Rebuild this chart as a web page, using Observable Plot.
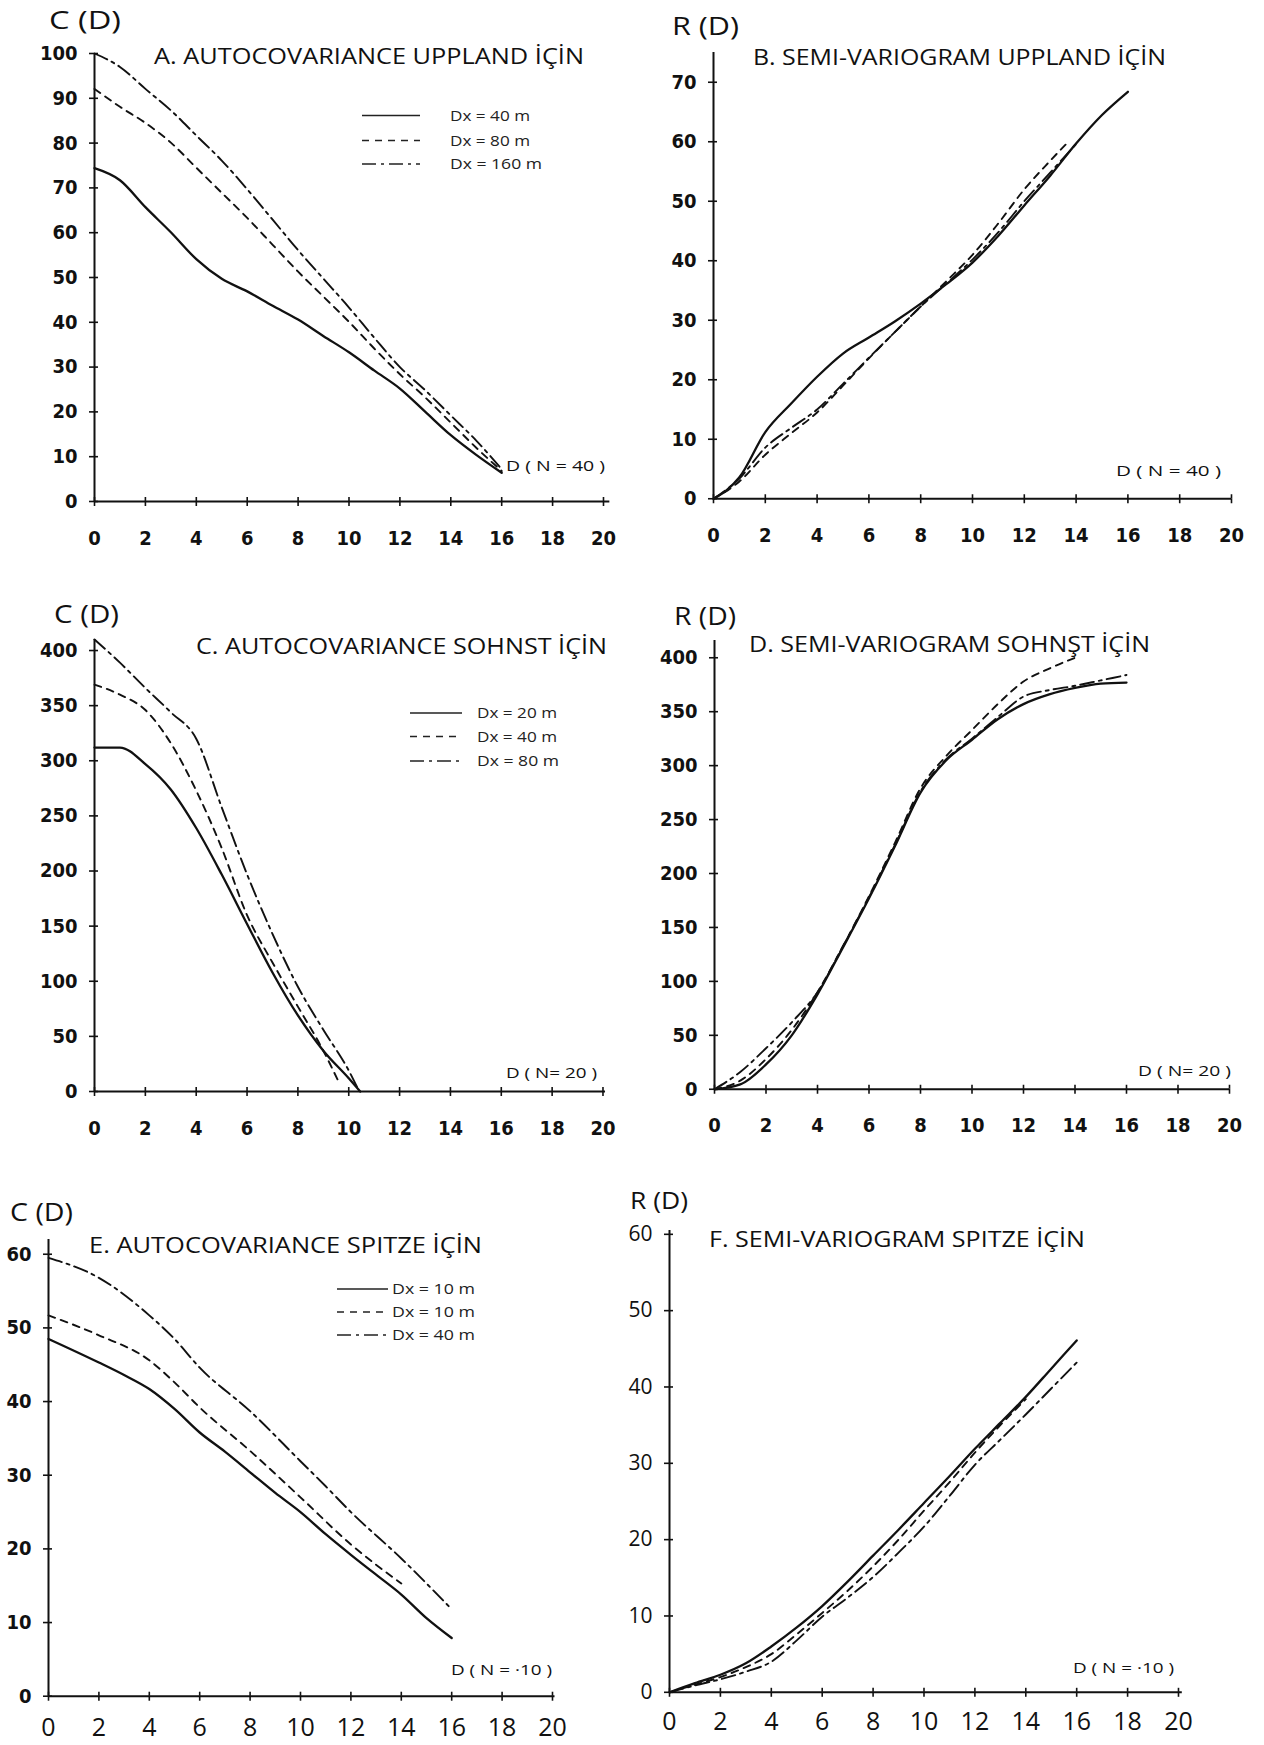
<!DOCTYPE html>
<html>
<head>
<meta charset="utf-8">
<script src="https://cdn.jsdelivr.net/npm/d3@7"></script>
<script src="https://cdn.jsdelivr.net/npm/@observablehq/plot@0.6"></script>
<style>
  html, body { margin: 0; padding: 0; background: #fff; }
  body { width: 1264px; height: 1745px; position: relative; overflow: hidden; }
  .pl { position: absolute; overflow: visible; }
  #overlay { position: absolute; left: 0; top: 0; pointer-events: none; }
</style>
</head>
<body>
<script>
// ---------------- DATA ----------------
const xTicks = [0, 2, 4, 6, 8, 10, 12, 14, 16, 18, 20];

// A. Autocovariance Uppland
const aLag = [0, 1, 2, 3, 4, 5, 6, 7, 8, 9, 10, 11, 12, 13, 14, 15, 16];
const aDx40  = [74.4, 71.7, 65.7, 60.1, 54.1, 49.7, 46.9, 43.7, 40.6, 36.9, 33.3, 29.2, 25.2, 20.0, 14.8, 10.4, 6.4];
const aDx80  = [92.1, 88.1, 84.5, 80.1, 74.5, 68.9, 63.3, 57.3, 51.3, 45.7, 40.1, 34.1, 28.4, 23.2, 17.6, 12.0, 6.8];
const aDx160 = [100, 97.0, 92.1, 87.3, 81.7, 76.1, 69.7, 62.9, 56.1, 49.7, 43.3, 36.5, 30.0, 24.8, 19.2, 13.6, 7.2];
const aYTicks = [0, 10, 20, 30, 40, 50, 60, 70, 80, 90, 100];

// B. Semi-variogram Uppland
const bLagSolid = [0, 0.5, 1, 2, 3, 4, 5, 6, 7, 8, 9, 10, 11, 12, 13, 14, 15, 16];
const bSolid    = [0, 1.4, 3.6, 11.2, 16.0, 20.5, 24.4, 27.1, 29.8, 32.8, 36.1, 39.7, 44.2, 49.3, 54.3, 59.7, 64.5, 68.4];
const bLagDash  = [0, 1, 2, 3, 4, 5, 6, 7, 8, 9, 10, 11, 12, 13, 13.7];
const bDash     = [0, 2.9, 7.4, 11.0, 14.5, 19.0, 23.6, 28.0, 32.3, 36.6, 41.0, 46.3, 52.0, 56.8, 60.0];
const bLagDot   = [0, 1, 2, 3, 4, 5, 6, 7, 8, 9, 10, 11, 12, 13, 14];
const bDot      = [0, 3.4, 8.6, 11.9, 15.0, 19.3, 23.7, 28.0, 32.3, 36.2, 40.2, 44.8, 50.0, 54.8, 59.6];
const bYTicks = [0, 10, 20, 30, 40, 50, 60, 70];

// C. Autocovariance Sohnst
const cLag20 = [0, 1, 2, 3, 4, 5, 6, 7, 8, 9, 10, 10.45];
const cDx20  = [312, 312, 297, 274, 239, 197, 152, 108, 69, 37, 12, 0];
const cLag40 = [0, 1, 2, 3, 4, 5, 6, 7, 8, 9, 9.6];
const cDx40  = [369, 360, 346, 316, 273, 221, 160, 117, 77, 37, 9];
const cLag80 = [0, 1, 2, 3, 4, 5, 6, 7, 8, 9, 10, 10.35];
const cDx80  = [410, 389, 366, 344, 320, 258, 197, 143, 95, 56, 19, 3];
const cYTicks = [0, 50, 100, 150, 200, 250, 300, 350, 400];

// D. Semi-variogram Sohnst
const dLag      = [0, 1, 2, 3, 4, 5, 6, 7, 8, 9, 10, 11, 12, 13, 14, 15, 16];
const dSolid    = [0, 4.5, 23, 50, 88, 132, 177, 225, 275, 305, 324, 343, 357, 366, 372, 376, 377];
const dLong     = [0, 16, 38, 62, 90, 133, 178, 226, 276, 306, 325, 345, 364, 370, 374, 379, 384];
const dLagShort = [0, 1, 2, 3, 4, 5, 6, 7, 8, 9, 10, 11, 12, 13, 14];
const dShort    = [0, 8, 28, 55, 90, 133, 179, 228, 279, 309, 333, 357, 378, 390, 400];
const dYTicks = [0, 50, 100, 150, 200, 250, 300, 350, 400];

// E. Autocovariance Spitze
const eLag     = [0, 2, 3, 4, 5, 6, 7, 8, 9, 10, 11, 12, 13, 14, 15, 16];
const eDx10a   = [48.5, 45.3, 43.6, 41.7, 39.0, 35.8, 33.2, 30.4, 27.6, 25.0, 22.0, 19.2, 16.5, 13.8, 10.6, 7.9];
const eLagDash = [0, 2, 4, 5, 6, 8, 10, 12, 14];
const eDx10b   = [51.7, 49.0, 45.6, 42.6, 39.2, 33.3, 27.0, 20.6, 15.3];
const eLagDot  = [0, 2, 4, 5, 6, 8, 10, 11, 12, 14, 16];
const eDx40    = [59.5, 56.8, 51.7, 48.5, 44.6, 38.7, 31.9, 28.5, 25.0, 18.7, 11.8];
const eYTicks = [0, 10, 20, 30, 40, 50, 60];

// F. Semi-variogram Spitze
const fLag     = [0, 1, 2, 3, 4, 5, 6, 7, 8, 9, 10, 11, 12, 13, 14, 15, 16];
const fSolid   = [0, 1.2, 2.3, 3.8, 6.0, 8.5, 11.3, 14.5, 17.9, 21.3, 24.8, 28.3, 31.9, 35.3, 38.7, 42.4, 46.1];
const fLagDash = [0, 1, 2, 3, 4, 5, 6, 7, 8, 9, 10, 11, 12, 13, 14];
const fDash    = [0, 1.0, 2.0, 3.3, 5.0, 7.6, 10.4, 13.3, 16.5, 20.0, 23.8, 27.5, 31.4, 35.0, 38.4];
const fDot     = [0, 0.9, 1.7, 2.7, 4.0, 6.8, 9.9, 12.4, 15.1, 18.3, 21.7, 25.7, 29.8, 33.1, 36.4, 39.8, 43.2];
const fYTicks = [0, 10, 20, 30, 40, 50, 60];

// ---------------- STYLES ----------------
const SOLID = null;
const DASH = "7,6";
const DASHDOT = "14,5,3,5";
const narrow = "'Liberation Sans Narrow', 'DejaVu Sans Condensed', 'Open Sans', sans-serif";
const regular = "'Open Sans', 'DejaVu Sans', sans-serif";

function rows(lags, vals) { return lags.map((x, i) => ({x, y: vals[i]})); }

function panel(cfg) {
  const ux = (cfg.x20 - cfg.x0) / 20;
  const uy = (cfg.y0 - cfg.yRefPx) / cfg.yRef;
  const frameW = cfg.xmax * ux, frameH = cfg.ymax * uy;
  const ml = 80, mr = 20, mt = 24, mb = 60;
  const left = cfg.x0 - ml, top = cfg.y0 - frameH - mt;
  const marks = [
    Plot.ruleY([0], {stroke: "#111", strokeWidth: 2}),
    Plot.ruleX([0], {stroke: "#111", strokeWidth: 2}),
    Plot.axisX({ticks: xTicks, tickSize: 5, tickPadding: cfg.xPad, label: null,
      fontSize: cfg.xFont, fontWeight: cfg.xWeight, fontFamily: cfg.xFamily, strokeWidth: 1.6}),
    Plot.axisX({ticks: xTicks, tickSize: -4, tickFormat: () => "", label: null, strokeWidth: 1.6}),
    Plot.axisY({ticks: cfg.yTicks, tickSize: 5, tickPadding: 12, label: null,
      fontSize: cfg.yFont, fontWeight: cfg.yWeight, fontFamily: cfg.yFamily, strokeWidth: 1.6}),
    Plot.axisY({ticks: cfg.yTicks, tickSize: -4, tickFormat: () => "", label: null, strokeWidth: 1.6}),
    ...cfg.series.map(s => Plot.line(rows(s.lag, s.val), {
      x: "x", y: "y", curve: "monotone-x", stroke: "#111",
      strokeWidth: s.dash ? 1.9 : 2.3, strokeDasharray: s.dash || undefined
    }))
  ];
  const svg = Plot.plot({
    width: ml + frameW + mr, height: mt + frameH + mb,
    marginLeft: ml, marginRight: mr, marginTop: mt, marginBottom: mb,
    x: {domain: [0, cfg.xmax]}, y: {domain: [0, cfg.ymax]},
    style: {background: "transparent", color: "#111", overflow: "visible"},
    marks
  });
  svg.classList.add("pl");
  svg.style.left = left + "px";
  svg.style.top = top + "px";
  document.body.appendChild(svg);
}

const boldTicks = {xPad: 24, xFont: 20, xWeight: "bold", xFamily: narrow, yFont: 20, yWeight: "bold", yFamily: narrow};

panel({...boldTicks, x0: 94, x20: 603, y0: 501, yRef: 100, yRefPx: 53, xmax: 20.25, ymax: 100, yTicks: aYTicks,
  series: [{lag: aLag, val: aDx40, dash: SOLID}, {lag: aLag, val: aDx80, dash: DASH}, {lag: aLag, val: aDx160, dash: DASHDOT}]});

panel({...boldTicks, x0: 713, x20: 1231, y0: 498, yRef: 70, yRefPx: 81.5, xmax: 20, ymax: 75, yTicks: bYTicks,
  series: [{lag: bLagSolid, val: bSolid, dash: SOLID}, {lag: bLagDash, val: bDash, dash: DASH}, {lag: bLagDot, val: bDot, dash: DASHDOT}]});

panel({...boldTicks, x0: 93.5, x20: 602, y0: 1091, yRef: 400, yRefPx: 650, xmax: 20.1, ymax: 410, yTicks: cYTicks,
  series: [{lag: cLag20, val: cDx20, dash: SOLID}, {lag: cLag40, val: cDx40, dash: DASH}, {lag: cLag80, val: cDx80, dash: DASHDOT}]});

panel({...boldTicks, x0: 714, x20: 1229, y0: 1088.5, yRef: 400, yRefPx: 657, xmax: 20, ymax: 416, yTicks: dYTicks,
  series: [{lag: dLag, val: dSolid, dash: SOLID}, {lag: dLagShort, val: dShort, dash: DASH}, {lag: dLag, val: dLong, dash: DASHDOT}]});

panel({xPad: 17, xFont: 25, xWeight: "normal", xFamily: regular, yFont: 20, yWeight: "bold", yFamily: narrow,
  x0: 48, x20: 552, y0: 1696, yRef: 60, yRefPx: 1254, xmax: 20.1, ymax: 62, yTicks: eYTicks,
  series: [{lag: eLag, val: eDx10a, dash: SOLID}, {lag: eLagDash, val: eDx10b, dash: DASH}, {lag: eLagDot, val: eDx40, dash: DASHDOT}]});

panel({xPad: 15, xFont: 25, xWeight: "normal", xFamily: regular, yFont: 21, yWeight: "normal", yFamily: regular,
  x0: 669, x20: 1178, y0: 1692, yRef: 60, yRefPx: 1234, xmax: 20.15, ymax: 60.5, yTicks: fYTicks,
  series: [{lag: fLag, val: fSolid, dash: SOLID}, {lag: fLagDash, val: fDash, dash: DASH}, {lag: fLag, val: fDot, dash: DASHDOT}]});

// ---------------- TEXT OVERLAY (titles, axis names, legends) ----------------
const texts = [
  // [text, x, baseline, textLength, fontSize]
  ["C (D)", 49, 29, 72, 26],
  ["A. AUTOCOVARIANCE UPPLAND İÇİN", 154, 64, 430, 22],
  ["D ( N = 40 )", 506, 471, 99, 15],
  ["R (D)", 672, 35, 67, 26],
  ["B. SEMI-VARIOGRAM UPPLAND İÇİN", 753, 65, 413, 22],
  ["D ( N = 40 )", 1116, 476, 105, 15],
  ["C (D)", 54, 623, 65, 26],
  ["C. AUTOCOVARIANCE SOHNST İÇİN", 196, 654, 411, 22],
  ["D ( N= 20 )", 506, 1078, 91, 15],
  ["R (D)", 674, 625, 62, 26],
  ["D. SEMI-VARIOGRAM SOHNŞT İÇİN", 749, 652, 401, 22],
  ["D ( N= 20 )", 1138, 1076, 93, 15],
  ["C (D)", 10, 1221, 63, 25],
  ["E. AUTOCOVARIANCE SPITZE İÇİN", 89, 1253, 393, 22],
  ["D ( N = ·10 )", 451, 1675, 101, 15],
  ["R (D)", 630, 1209, 58, 23],
  ["F. SEMI-VARIOGRAM SPITZE İÇİN", 709, 1247, 376, 22],
  ["D ( N = ·10 )", 1073, 1673, 101, 15]
];
const legendA = ["Dx = 40 m", "Dx = 80 m", "Dx = 160 m"];
const legendC = ["Dx = 20 m", "Dx = 40 m", "Dx = 80 m"];
const legendE = ["Dx =  10 m", "Dx =  10 m", "Dx = 40 m"];
const legendDash = [SOLID, DASH, DASHDOT];

const ov = d3.select("body").append("svg").attr("id", "overlay").attr("width", 1264).attr("height", 1745);
for (const [t, x, y, len, fs] of texts) {
  ov.append("text").attr("x", x).attr("y", y).attr("font-size", fs)
    .attr("font-family", regular).attr("fill", "#111")
    .attr("textLength", len).attr("lengthAdjust", "spacingAndGlyphs").text(t);
}
function legend(labels, lx1, lx2, tx, ys, lens) {
  labels.forEach((lab, i) => {
    ov.append("line").attr("x1", lx1).attr("x2", lx2).attr("y1", ys[i]).attr("y2", ys[i])
      .attr("stroke", "#222").attr("stroke-width", 1.3)
      .attr("stroke-dasharray", legendDash[i]);
    ov.append("text").attr("x", tx).attr("y", ys[i] + 5).attr("font-size", 14)
      .attr("font-family", regular).attr("fill", "#222")
      .attr("textLength", lens[i]).attr("lengthAdjust", "spacingAndGlyphs").text(lab);
  });
}
legend(legendA, 362, 420, 450, [115.5, 140.5, 164], [80, 80, 92]);
legend(legendC, 410, 462, 477, [713, 736.5, 761], [80, 80, 82]);
legend(legendE, 337, 388, 392, [1289, 1312, 1335], [83, 83, 83]);
</script>
</body>
</html>
